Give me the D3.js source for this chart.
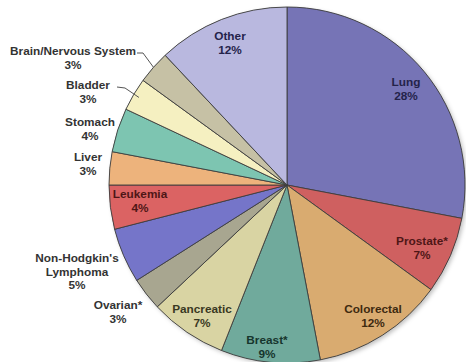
<!DOCTYPE html>
<html><head><meta charset="utf-8">
<script src="https://cdn.jsdelivr.net/npm/d3@7"></script>
<style>html,body{margin:0;padding:0;background:#fff;}svg{display:block;}</style>
</head><body>
<svg id="c" width="466" height="362"></svg>
<script>
const categories = ["Lung","Prostate*","Colorectal","Breast*","Pancreatic","Ovarian*","Non-Hodgkin's Lymphoma","Leukemia","Liver","Stomach","Bladder","Brain/Nervous System","Other"];
const values = [28,7,12,9,7,3,5,4,3,4,3,3,12];
const colors = ["#7674b6","#cf6060","#d9ab70","#70aa9c","#d9d4a3","#a8a690","#7575c9","#db6363","#edb37c","#7dc5b1","#f5f0c1","#c6c1a5","#b9b8df"];
const textColors = ["#24234a","#4e1616","#3e2a10","#17352d","#3a3822","#333","#333","#4e1616","#333","#333","#333","#333","#24234a"];
const labelLines = [["Lung","28%"],["Prostate*","7%"],["Colorectal","12%"],["Breast*","9%"],["Pancreatic","7%"],["Ovarian*","3%"],["Non-Hodgkin's","Lymphoma","5%"],["Leukemia","4%"],["Liver","3%"],["Stomach","4%"],["Bladder","3%"],["Brain/Nervous System","3%"],["Other","12%"]];
const labelPos = [[406,82],[422,241],[373,309],[267,340],[202,309],[118,305],[77,258],[140,194],[88,157],[90,122],[88,85],[73,51],[230,36]];

const svg = d3.select("#c");
const cx = 287, cy = 185, r = 178;
const defs = svg.append("defs");
const f = defs.append("filter").attr("id","sh").attr("x","-20%").attr("y","-20%").attr("width","140%").attr("height","140%");
f.append("feDropShadow").attr("dx",2).attr("dy",2).attr("stdDeviation",2).attr("flood-color","#000").attr("flood-opacity",0.25);

const pie = d3.pie().sort(null).value(d=>d)(values);
const arc = d3.arc().innerRadius(0).outerRadius(r);
const g = svg.append("g").attr("transform",`translate(${cx},${cy})`);
g.append("circle").attr("r",r).attr("fill","#888").attr("filter","url(#sh)");
g.selectAll("path.s").data(pie).join("path").attr("class","s")
  .attr("d",arc).attr("fill",(d,i)=>colors[i])
  .attr("stroke","#3d3d3d").attr("stroke-width",0.9).attr("stroke-linejoin","round");

const leaders = [
  {i:11, pts:[[137,53],[143,53]], rr:r},
  {i:10, pts:[[117,87],[125,88]], rr:r-6}
];
leaders.forEach(L=>{
  const d = pie[L.i];
  const a = (d.startAngle+d.endAngle)/2;
  const ex = cx + Math.sin(a)*L.rr, ey = cy - Math.cos(a)*L.rr;
  svg.append("path").attr("d", d3.line()([...L.pts,[ex,ey]]))
    .attr("fill","none").attr("stroke","#555").attr("stroke-width",1);
});

const tg = svg.append("g").attr("font-family","'Liberation Sans', Arial, sans-serif").attr("font-weight","bold").attr("font-size","11.8px").attr("text-anchor","middle");
labelLines.forEach((lines,i)=>{
  const t = tg.append("text").attr("x",labelPos[i][0]).attr("y",labelPos[i][1]+4).attr("fill",textColors[i]);
  lines.forEach((ln,k)=>{
    t.append("tspan").attr("x",labelPos[i][0]).attr("dy",k===0?0:13.5).text(ln);
  });
});
</script>
</body></html>
